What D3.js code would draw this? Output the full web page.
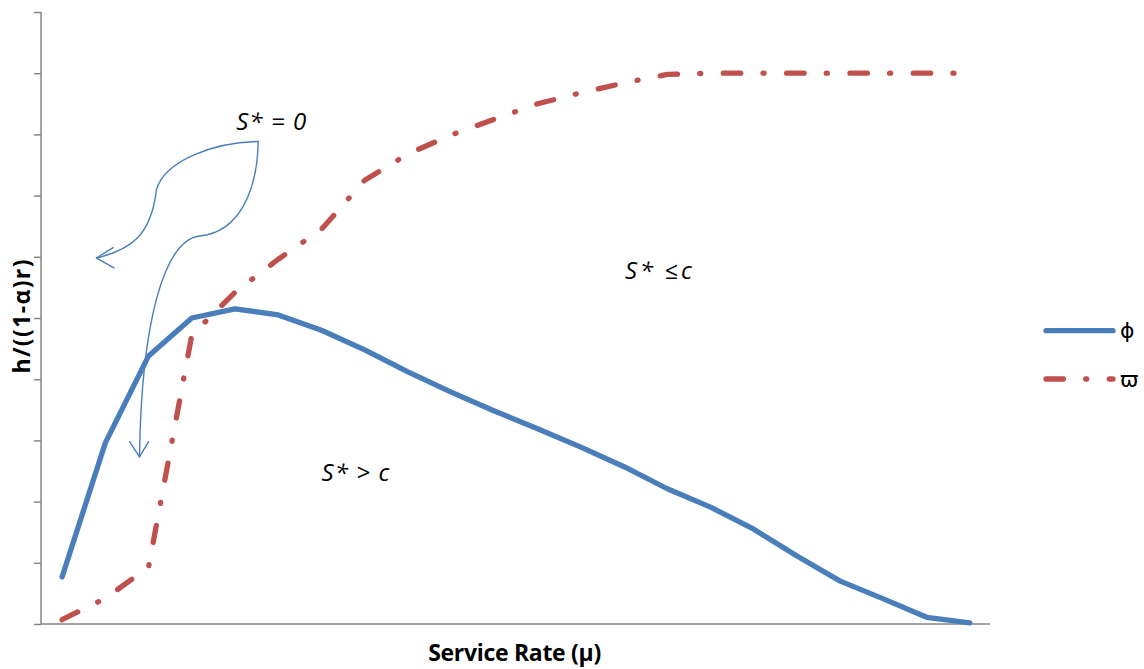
<!DOCTYPE html>
<html>
<head>
<meta charset="utf-8">
<script src="https://cdn.jsdelivr.net/npm/d3@7"></script>
<style>
  html, body { margin: 0; padding: 0; background: #fff; }
  svg { display: block; }
</style>
</head>
<body>
<svg id="chart" width="1144" height="669"></svg>
<script>
// ---- data ----
const categories = [1, 2, 3, 4, 5, 6, 7, 8, 9, 10, 11, 12, 13, 14, 15, 16, 17, 18, 19, 20, 21, 22];
const phiValues = [0.77, 2.96, 4.38, 5.00, 5.15, 5.05, 4.80, 4.48, 4.12, 3.79, 3.48, 3.19, 2.89, 2.57, 2.21, 1.91, 1.55, 1.11, 0.70, 0.41, 0.11, 0.02];
const varpiValues = [0.07, 0.42, 0.93, 4.72, 5.42, 5.96, 6.45, 7.25, 7.68, 7.99, 8.25, 8.50, 8.68, 8.84, 8.98, 9.00, 9.00, 9.00, 9.00, 9.00, 9.00, 9.00];
const yTicks = [0, 1, 2, 3, 4, 5, 6, 7, 8, 9, 10];
const seriesNames = ["\u03D5", "\u03D6"];
const xTitle = "Service Rate (\u03BC)";
const yTitle = "h/((1-\u03B1)r)";
const regionLabels = ["S* = 0", "S* \u2264c", "S* > c"];

// ---- layout ----
const svg = d3.select("#chart");
const plot = { left: 41, right: 990, top: 12, bottom: 624 };
const blue = "#4a7ebb", red = "#c0504d", axisGrey = "#868686";

const x = d3.scalePoint().domain(categories).range([plot.left - 0.5, plot.right + 1.5]).padding(0.5);
const y = d3.scaleLinear().domain([0, 10]).range([plot.bottom, plot.top]);
// fractional-index helper for annotations
const xi = d3.scaleLinear().domain([0, categories.length - 1]).range([x(categories[0]), x(categories[categories.length - 1])]);

// axes
const yAxis = d3.axisLeft(y).tickValues(yTicks).tickSize(7).tickFormat("");
const gy = svg.append("g").attr("transform", `translate(${plot.left},0)`).call(yAxis);
gy.select(".domain").attr("stroke", axisGrey).attr("stroke-width", 1.5).attr("d", `M-0,${plot.top}V${plot.bottom}`);
gy.selectAll(".tick line").attr("stroke", axisGrey).attr("stroke-width", 1.5);

const gx = svg.append("g").attr("transform", `translate(0,${plot.bottom})`)
  .call(d3.axisBottom(x).tickSize(0).tickFormat(""));
gx.select(".domain").attr("stroke", axisGrey).attr("stroke-width", 1.5).attr("d", `M${plot.left},0H${plot.right}`);

// lines
const line = d3.line().x((d, i) => x(categories[i])).y(d => y(d));
svg.append("path").datum(phiValues).attr("d", line)
  .attr("fill", "none").attr("stroke", blue).attr("stroke-width", 5.3)
  .attr("stroke-linejoin", "round").attr("stroke-linecap", "round");
svg.append("path").datum(varpiValues).attr("d", line)
  .attr("fill", "none").attr("stroke", red).attr("stroke-width", 5.3)
  .attr("stroke-linejoin", "round").attr("stroke-linecap", "round")
  .attr("stroke-dasharray", "17.4,22.3,1,22.6");

// annotation arrows (thin blue), positioned in data coordinates
const P = (i, v) => [xi(i), y(v)];
function cubicPath(pts) {
  const p = d3.path();
  p.moveTo(...pts[0]);
  for (let k = 1; k + 2 < pts.length + 1; k += 3) {
    if (!pts[k + 2]) break;
    p.bezierCurveTo(...pts[k], ...pts[k + 1], ...pts[k + 2]);
  }
  return p.toString();
}
const start = P(4.535, 7.885);
const arrow1 = [start, P(3.53, 7.87), P(2.37, 7.58), P(2.18, 7.09), P(2.06, 6.34), P(1.57, 6.11), P(0.795, 5.98)];
const arrow2 = [start, P(4.52, 7.09), P(4.10, 6.40), P(3.18, 6.34), P(2.37, 6.27), P(1.835, 4.97), P(1.79, 2.73)];
const thin = g => g.attr("fill", "none").attr("stroke", blue).attr("stroke-width", 1.4).attr("stroke-linecap", "round").attr("stroke-linejoin", "round");
svg.append("path").attr("d", cubicPath(arrow1)).call(thin);
svg.append("path").attr("d", cubicPath(arrow2)).call(thin);
const head1 = [P(1.18, 6.15), P(0.795, 5.98), P(1.2, 5.82)];
const head2 = [P(1.56, 2.98), P(1.79, 2.73), P(2.0, 2.98)];
svg.append("path").attr("d", d3.line()(head1)).call(thin);
svg.append("path").attr("d", d3.line()(head2)).call(thin);

// region labels
const labelFont = "'Open Sans', 'Liberation Sans', sans-serif";
const regionPos = [[P(4.027, 8.07), 70], [P(13.02, 5.64), 67], [P(6.0, 2.33), 68]];
regionLabels.forEach((t, k) => {
  svg.append("text").attr("x", regionPos[k][0][0]).attr("y", regionPos[k][0][1])
    .attr("font-family", labelFont).attr("font-style", "italic").attr("font-size", 24)
    .attr("textLength", regionPos[k][1]).attr("fill", "#000").text(t);
});

// axis titles
svg.append("text").attr("x", 514.7).attr("y", 661)
  .attr("text-anchor", "middle").attr("font-family", labelFont).attr("font-weight", "bold")
  .attr("font-size", 23).attr("textLength", 173).attr("fill", "#000").text(xTitle);
svg.append("text").attr("transform", "translate(30,316.5) rotate(-90)")
  .attr("text-anchor", "middle").attr("font-family", labelFont).attr("font-weight", "bold")
  .attr("font-size", 23).attr("textLength", 114).attr("fill", "#000").text(yTitle);

// legend
const legend = svg.append("g");
const legendRows = [{ name: seriesNames[0], color: blue, dash: null, cy: 330.7 },
                    { name: seriesNames[1], color: red, dash: "17.4,22.3,1,22.6", cy: 379 }];
legendRows.forEach(r => {
  legend.append("line").attr("x1", 1046).attr("x2", 1113).attr("y1", r.cy).attr("y2", r.cy)
    .attr("stroke", r.color).attr("stroke-width", 5.3).attr("stroke-linecap", "round")
    .attr("stroke-dasharray", r.dash);
  legend.append("text").attr("x", 1120).attr("y", r.cy).attr("dy", "0.35em")
    .attr("font-family", "'DejaVu Sans', sans-serif").attr("font-size", 22).attr("fill", "#000").text(r.name);
});
</script>
</body>
</html>
